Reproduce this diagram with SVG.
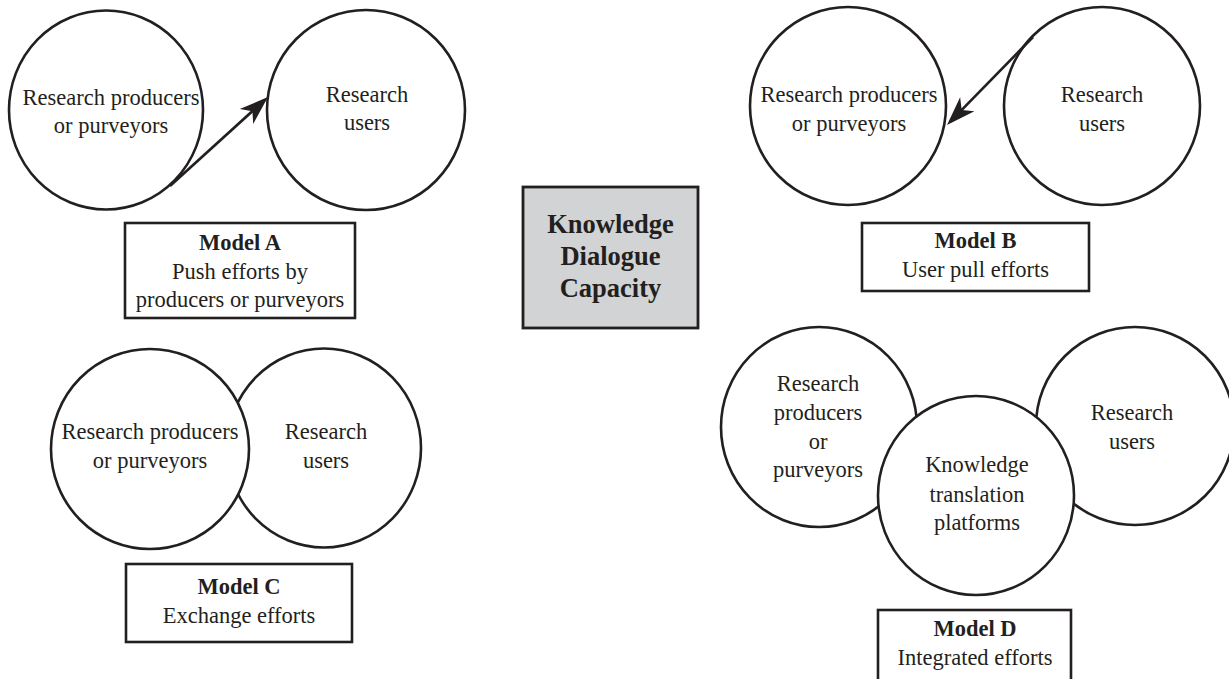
<svg xmlns="http://www.w3.org/2000/svg" width="1229" height="679" viewBox="0 0 1229 679">
<style>
.c{fill:#fff;stroke:#231f20;stroke-width:2.6}
.b{fill:#fff;stroke:#231f20;stroke-width:2.6}
.g{fill:#d1d3d4;stroke:#231f20;stroke-width:2.8}
text{font-family:"Liberation Serif","Times New Roman",serif;font-size:22.5px;fill:#231f20;text-anchor:middle}
.h{font-weight:bold}
.k{font-weight:bold;font-size:26.5px}
.l{stroke:#231f20;stroke-width:2.6;fill:none}
</style>
<defs>
<marker id="ah" markerUnits="userSpaceOnUse" markerWidth="40" markerHeight="40" refX="0" refY="0" orient="auto" overflow="visible">
<path d="M4,0 L-25,-10 L-17,0 L-25,10 Z" fill="#231f20"/>
</marker>
</defs>
<rect width="1229" height="679" fill="#fff"/>

<g id="modelA-producers">
<ellipse class="c" cx="106" cy="110" rx="97" ry="99.5"/>
<text x="111" y="105">Research producers</text>
<text x="111" y="133">or purveyors</text>
</g>
<g id="modelA-users">
<ellipse class="c" cx="366" cy="110" rx="99" ry="100"/>
<text x="367" y="102">Research</text>
<text x="367" y="130">users</text>
</g>
<g id="modelA-label">
<rect class="b" x="125" y="223" width="230" height="95"/>
<text class="h" x="240" y="250">Model A</text>
<text x="240" y="279">Push efforts by</text>
<text x="240" y="307">producers or purveyors</text>
</g>

<g id="modelB-producers">
<ellipse class="c" cx="848" cy="106" rx="98" ry="99"/>
<text x="849" y="102">Research producers</text>
<text x="849" y="131">or purveyors</text>
</g>
<g id="modelB-users">
<ellipse class="c" cx="1102" cy="106" rx="98" ry="99"/>
<text x="1102" y="102">Research</text>
<text x="1102" y="131">users</text>
</g>
<g id="modelB-label">
<rect class="b" x="862" y="223" width="227" height="68"/>
<text class="h" x="975.5" y="248">Model B</text>
<text x="975.5" y="277">User pull efforts</text>
</g>

<g id="center">
<rect class="g" x="523" y="187" width="175" height="141"/>
<text class="k" x="610.5" y="233">Knowledge</text>
<text class="k" x="610.5" y="265">Dialogue</text>
<text class="k" x="610.5" y="297">Capacity</text>
</g>

<g id="modelC-users">
<ellipse class="c" cx="324" cy="448" rx="97" ry="99.5"/>
<text x="326" y="439">Research</text>
<text x="326" y="468">users</text>
</g>
<g id="modelC-producers">
<ellipse class="c" cx="150" cy="449" rx="99" ry="100"/>
<text x="150" y="439">Research producers</text>
<text x="150" y="468">or purveyors</text>
</g>
<g id="modelC-label">
<rect class="b" x="126" y="564" width="226" height="78"/>
<text class="h" x="239" y="594">Model C</text>
<text x="239" y="623">Exchange efforts</text>
</g>

<g id="modelD-producers">
<ellipse class="c" cx="819" cy="427" rx="98" ry="100"/>
<text x="818" y="391">Research</text>
<text x="818" y="420">producers</text>
<text x="818" y="449">or</text>
<text x="818" y="477">purveyors</text>
</g>
<g id="modelD-users">
<ellipse class="c" cx="1135" cy="426" rx="99" ry="99"/>
<text x="1132" y="420">Research</text>
<text x="1132" y="449">users</text>
</g>
<g id="modelD-platforms">
<ellipse class="c" cx="976" cy="495.5" rx="98" ry="99.5"/>
<text x="977" y="472">Knowledge</text>
<text x="977" y="502">translation</text>
<text x="977" y="530">platforms</text>
</g>
<g id="modelD-label">
<rect class="b" x="878" y="610" width="193" height="80"/>
<text class="h" x="975" y="636">Model D</text>
<text x="975" y="665">Integrated efforts</text>
</g>

<g id="connectors">
<line class="l" x1="170" y1="186" x2="265" y2="99.7" marker-end="url(#ah)"/>
<line class="l" x1="1033" y1="37" x2="949.8" y2="122.1" marker-end="url(#ah)"/>
</g>
</svg>
